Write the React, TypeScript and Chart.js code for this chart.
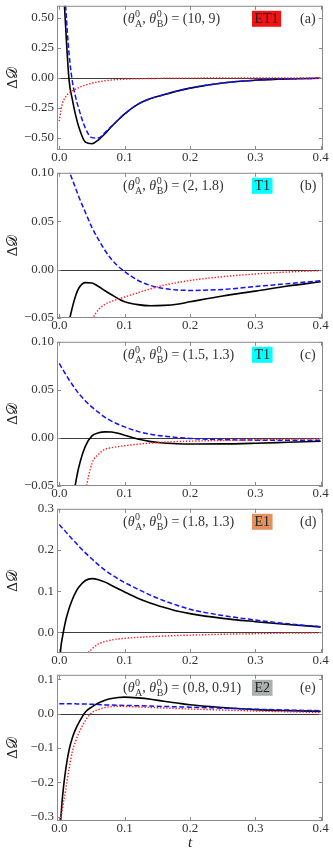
import { useEffect, useRef } from "react";
import { Chart, registerables } from "chart.js";

Chart.register(...registerables);

// ---------------- data ----------------
const tValues = [0, 0.0025, 0.005, 0.01, 0.015, 0.02, 0.025, 0.03, 0.04, 0.05, 0.06, 0.07, 0.08, 0.09, 0.1, 0.12, 0.14, 0.16, 0.18, 0.2, 0.25, 0.3, 0.35, 0.4];

const blackA = [2.0, 1.4, 0.95, 0.4, -0.02, -0.18, -0.31, -0.41, -0.535, -0.548, -0.515, -0.465, -0.405, -0.35, -0.3, -0.22, -0.172, -0.14, -0.11, -0.085, -0.042, -0.019, -0.008, -0.003];
const blueA = [2.6, 1.7, 1.15, 0.58, 0.2, -0.03, -0.16, -0.26, -0.42, -0.497, -0.5, -0.455, -0.402, -0.35, -0.3, -0.22, -0.172, -0.14, -0.11, -0.085, -0.042, -0.019, -0.008, -0.003];
const redA = [-0.36, -0.27, -0.21, -0.155, -0.125, -0.107, -0.093, -0.08, -0.06, -0.043, -0.032, -0.024, -0.018, -0.014, -0.011, -0.007, -0.005, -0.0035, -0.0025, -0.0018, -0.001, -0.0006, -0.0004, -0.0003];

const blackB = [-0.25, -0.2, -0.13, -0.085, -0.055, -0.039, -0.027, -0.019, -0.0135, -0.0138, -0.0175, -0.0218, -0.026, -0.03, -0.0332, -0.0362, -0.0374, -0.037, -0.0358, -0.0333, -0.0272, -0.0222, -0.017, -0.0125];
const blueB = [0.135, 0.129, 0.123, 0.112, 0.102, 0.093, 0.084, 0.075, 0.059, 0.0435, 0.031, 0.0197, 0.0105, 0.0035, -0.002, -0.011, -0.0165, -0.0195, -0.021, -0.0215, -0.0205, -0.0175, -0.0145, -0.0115];
const redB = [-1.0, -0.6, -0.45, -0.3, -0.22, -0.165, -0.13, -0.1, -0.07, -0.052, -0.0415, -0.0358, -0.0328, -0.0305, -0.0283, -0.024, -0.0198, -0.0162, -0.0135, -0.0112, -0.0073, -0.0045, -0.0025, -0.001];

const blackC = [-0.4, -0.32, -0.26, -0.18, -0.12, -0.068, -0.047, -0.03, -0.0085, 0.0022, 0.0053, 0.0063, 0.0061, 0.0048, 0.0028, -0.0012, -0.0038, -0.0053, -0.006, -0.0063, -0.0062, -0.0055, -0.0045, -0.0035];
const blueC = [0.0775, 0.0745, 0.0715, 0.066, 0.0605, 0.0553, 0.0505, 0.046, 0.0385, 0.032, 0.0265, 0.0215, 0.0175, 0.0142, 0.0115, 0.0068, 0.0038, 0.0018, 0.0005, -0.0005, -0.0018, -0.0023, -0.0025, -0.0025];
const redC = [-0.8, -0.6, -0.48, -0.34, -0.26, -0.2, -0.15, -0.11, -0.057, -0.0265, -0.017, -0.0118, -0.0102, -0.009, -0.0081, -0.0065, -0.0053, -0.0044, -0.0038, -0.0034, -0.0026, -0.002, -0.0013, -0.0007];

const blackD = [-0.08, -0.035, -0.01, 0.03, 0.058, 0.08, 0.097, 0.11, 0.126, 0.1305, 0.128, 0.122, 0.114, 0.106, 0.098, 0.083, 0.071, 0.061, 0.052, 0.0455, 0.034, 0.026, 0.019, 0.0135];
const blueD = [0.262, 0.257, 0.253, 0.244, 0.235, 0.226, 0.218, 0.209, 0.193, 0.178, 0.164, 0.151, 0.14, 0.13, 0.121, 0.105, 0.09, 0.077, 0.066, 0.056, 0.041, 0.03, 0.021, 0.0135];
const redD = [-0.8, -0.6, -0.45, -0.3, -0.22, -0.16, -0.12, -0.09, -0.058, -0.04, -0.028, -0.022, -0.0185, -0.016, -0.0145, -0.012, -0.0102, -0.0088, -0.0076, -0.0066, -0.0045, -0.003, -0.0018, -0.001];

const blackE = [-0.36, -0.3, -0.24, -0.16, -0.105, -0.07, -0.045, -0.026, 0.005, 0.02, 0.031, 0.039, 0.044, 0.047, 0.048, 0.046, 0.042, 0.036, 0.031, 0.026, 0.018, 0.0118, 0.0088, 0.0068];
const blueE = [0.029, 0.029, 0.029, 0.0289, 0.0288, 0.0287, 0.0285, 0.0283, 0.028, 0.0275, 0.0265, 0.0255, 0.025, 0.0245, 0.024, 0.023, 0.022, 0.021, 0.02, 0.019, 0.016, 0.013, 0.0105, 0.0085];
const redE = [-0.4, -0.31, -0.275, -0.22, -0.16, -0.11, -0.08, -0.056, -0.02, 0.003, 0.012, 0.018, 0.0205, 0.0215, 0.021, 0.0195, 0.018, 0.0165, 0.015, 0.0135, 0.0105, 0.0078, 0.0055, 0.0035];

const xTicks = [0, 0.1, 0.2, 0.3, 0.4];
const yTicksA = [-0.5, -0.25, 0, 0.25, 0.5];
const yTicksB = [-0.05, 0, 0.05, 0.1];
const yTicksC = [-0.05, 0, 0.05, 0.1];
const yTicksD = [0, 0.1, 0.2, 0.3];
const yTicksE = [-0.3, -0.2, -0.1, 0, 0.1];

const thetaA0 = ["10", "2", "1.5", "1.8", "0.8"];
const thetaB0 = ["9", "1.8", "1.3", "1.3", "0.91"];
const phaseLabels = ["ET1", "T1", "T1", "E1", "E2"];
const panelLetters = ["(a)", "(b)", "(c)", "(d)", "(e)"];

// ---------------- styling / layout ----------------
const FONT = '"Liberation Serif", "DejaVu Serif", serif';
const X_MIN = -0.0035;
const X_MAX = 0.4035;
const PAD_T = 10;
const Y_AXIS_W = 57;
const PAD_R = 10;
const phaseColors = ["#f51212", "#00ffff", "#00ffff", "#e3925f", "#a9b1af"];

type PanelCfg = {
  plotTop: number;
  plotBottom: number;
  yMin: number;
  yMax: number;
  yTicks: number[];
  yDec: number;
  black: number[];
  blue: number[];
  red: number[];
  idx: number;
  xH: number;
  xTitle: boolean;
};

const panels: PanelCfg[] = [
  { plotTop: 5, plotBottom: 150, yMin: -0.6, yMax: 0.6, yTicks: yTicksA, yDec: 2, black: blackA, blue: blueA, red: redA, idx: 0, xH: 22, xTitle: false },
  { plotTop: 172, plotBottom: 318, yMin: -0.05, yMax: 0.1, yTicks: yTicksB, yDec: 2, black: blackB, blue: blueB, red: redB, idx: 1, xH: 22, xTitle: false },
  { plotTop: 341, plotBottom: 486, yMin: -0.05, yMax: 0.1, yTicks: yTicksC, yDec: 2, black: blackC, blue: blueC, red: redC, idx: 2, xH: 22, xTitle: false },
  { plotTop: 508, plotBottom: 653, yMin: -0.05, yMax: 0.3, yTicks: yTicksD, yDec: 1, black: blackD, blue: blueD, red: redD, idx: 3, xH: 22, xTitle: false },
  { plotTop: 674, plotBottom: 821, yMin: -0.312, yMax: 0.113, yTicks: yTicksE, yDec: 1, black: blackE, blue: blueE, red: redE, idx: 4, xH: 31, xTitle: true },
];

const fmt = (v: number, d: number) => {
  const s = Math.abs(v).toFixed(d);
  return (v < -1e-12 ? "\u2212" : "") + s;
};

function drawAnnotation(ctx: CanvasRenderingContext2D, a: any, i: number) {
  const main = `14px ${FONT}`;
  const ital = `italic 14px ${FONT}`;
  const small = `10px ${FONT}`;
  const base = a.top + 17.5;
  ctx.fillStyle = "#333";
  ctx.textAlign = "left";
  ctx.textBaseline = "alphabetic";
  let x = a.left + 66;
  const put = (s: string, font: string, dy = 0) => {
    ctx.font = font;
    ctx.fillText(s, x, base + dy);
    return ctx.measureText(s).width;
  };
  const supsub = (sup: string, sub: string) => {
    ctx.font = small;
    const w = Math.max(ctx.measureText(sup).width, ctx.measureText(sub).width);
    ctx.fillText(sup, x, base - 6);
    ctx.fillText(sub, x, base + 4);
    return w;
  };
  x += put("(", main);
  x += put("\u03b8", ital) + 0.5;
  x += supsub("0", "A");
  x += put(", ", main);
  x += put("\u03b8", ital) + 0.5;
  x += supsub("0", "B");
  x += put(`) = (${thetaA0[i]}, ${thetaB0[i]})`, main);

  // phase box
  ctx.font = main;
  const label = phaseLabels[i];
  const tw = ctx.measureText(label).width;
  const bw = tw + 5;
  const bx = a.left + 195;
  ctx.fillStyle = phaseColors[i];
  ctx.fillRect(bx, a.top + 5, bw, 16);
  ctx.fillStyle = "#222";
  ctx.fillText(label, bx + 2.5, base);

  // panel letter
  ctx.fillStyle = "#333";
  ctx.fillText(panelLetters[i], a.left + 243, base);
}

function Panel({ cfg }: { cfg: PanelCfg }) {
  const ref = useRef<HTMLCanvasElement | null>(null);
  const H = PAD_T + (cfg.plotBottom - cfg.plotTop) + cfg.xH;

  useEffect(() => {
    const canvas = ref.current;
    if (!canvas) return;
    const mk = (vals: number[]) => tValues.map((t, k) => ({ x: t, y: vals[k] }));

    const decor = {
      id: "decor",
      beforeDatasetsDraw(chart: any) {
        const { ctx, chartArea: a } = chart;
        const y0 = Math.round(chart.scales.y.getPixelForValue(0)) + 0.5;
        ctx.save();
        ctx.strokeStyle = "#3c3c3c";
        ctx.lineWidth = 1;
        ctx.beginPath();
        ctx.moveTo(a.left, y0);
        ctx.lineTo(a.right, y0);
        ctx.stroke();
        ctx.restore();
      },
      afterDraw(chart: any) {
        const { ctx, chartArea: a } = chart;
        const xs = chart.scales.x;
        const ys = chart.scales.y;
        ctx.save();
        ctx.strokeStyle = "#8a8a8a";
        ctx.lineWidth = 1;
        ctx.strokeRect(a.left + 0.5, a.top + 0.5, a.right - a.left - 1, a.bottom - a.top - 1);
        const TL = 4;
        ctx.beginPath();
        xTicks.forEach((v) => {
          const x = Math.round(xs.getPixelForValue(v)) + 0.5;
          ctx.moveTo(x, a.bottom);
          ctx.lineTo(x, a.bottom - TL);
          ctx.moveTo(x, a.top);
          ctx.lineTo(x, a.top + TL);
        });
        cfg.yTicks.forEach((v) => {
          const y = Math.round(ys.getPixelForValue(v)) + 0.5;
          ctx.moveTo(a.left, y);
          ctx.lineTo(a.left + TL, y);
          ctx.moveTo(a.right, y);
          ctx.lineTo(a.right - TL, y);
        });
        ctx.stroke();
        drawAnnotation(ctx, a, cfg.idx);
        ctx.restore();
      },
    };

    const chart = new Chart(canvas, {
      type: "line",
      data: {
        datasets: [
          {
            data: mk(cfg.red),
            borderColor: "#ff1a1a",
            borderWidth: 1.4,
            borderDash: [1.4, 1.7],
            pointRadius: 0,
            cubicInterpolationMode: "monotone",
          },
          {
            data: mk(cfg.blue),
            borderColor: "#1010ff",
            borderWidth: 1.5,
            borderDash: [5, 2.5],
            pointRadius: 0,
            cubicInterpolationMode: "monotone",
          },
          {
            data: mk(cfg.black),
            borderColor: "#000000",
            borderWidth: 1.6,
            pointRadius: 0,
            cubicInterpolationMode: "monotone",
          },
        ],
      },
      options: {
        animation: false,
        responsive: false,
        devicePixelRatio: 1,
        events: [],
        layout: { padding: { left: 0, right: PAD_R, top: PAD_T, bottom: 0 } },
        plugins: { legend: { display: false }, tooltip: { enabled: false } },
        scales: {
          x: {
            type: "linear",
            min: X_MIN,
            max: X_MAX,
            grid: { display: false, drawTicks: false },
            border: { display: false },
            afterBuildTicks: (s: any) => {
              s.ticks = xTicks.map((v) => ({ value: v }));
            },
            afterFit: (s: any) => {
              s.height = cfg.xH;
            },
            ticks: {
              autoSkip: false,
              maxRotation: 0,
              padding: 0,
              color: "#333",
              font: { family: FONT, size: 13 },
              callback: (v: any) => fmt(Number(v), 1),
            },
            title: cfg.xTitle
              ? {
                  display: true,
                  text: "t",
                  color: "#222",
                  font: { family: FONT, size: 15, style: "italic" },
                  padding: { top: 0, bottom: 0 },
                }
              : { display: false },
          },
          y: {
            type: "linear",
            min: cfg.yMin,
            max: cfg.yMax,
            grid: { display: false, drawTicks: false },
            border: { display: false },
            afterBuildTicks: (s: any) => {
              s.ticks = cfg.yTicks.map((v) => ({ value: v }));
            },
            afterFit: (s: any) => {
              s.width = Y_AXIS_W;
            },
            ticks: {
              autoSkip: false,
              padding: 3,
              color: "#333",
              font: { family: FONT, size: 13 },
              callback: (v: any) => fmt(Number(v), cfg.yDec),
            },
            title: {
              display: true,
              text: "\u0394\uD835\uDC9F",
              color: "#222",
              font: { family: FONT, size: 15 },
              padding: { top: 4, bottom: 0 },
            },
          },
        },
      },
      plugins: [decor],
    } as any);
    return () => chart.destroy();
  }, []);

  return (
    <canvas
      ref={ref}
      width={333}
      height={H}
      style={{ position: "absolute", left: 0, top: cfg.plotTop - PAD_T, width: 333, height: H }}
    />
  );
}

export default function App() {
  return (
    <div style={{ position: "absolute", left: 0, top: 0, width: 333, height: 855, background: "#fff" }}>
      {panels.map((p) => (
        <Panel key={p.idx} cfg={p} />
      ))}
    </div>
  );
}
